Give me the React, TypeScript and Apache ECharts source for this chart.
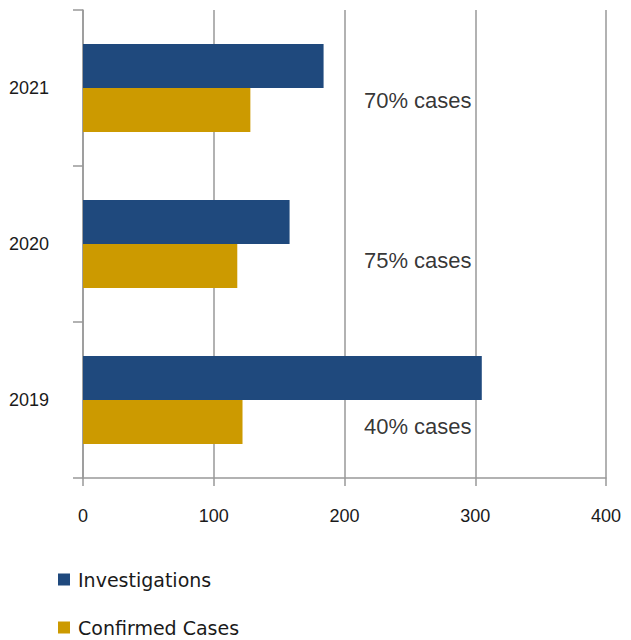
import React, { useEffect, useRef } from "react";
import * as echarts from "echarts";

const categories = ["2019", "2020", "2021"];
const investigations = [305, 158, 184];
const confirmedCases = [122, 118, 128];
const annotationLabels = ["40% cases", "75% cases", "70% cases"];
const xTicks = [0, 100, 200, 300, 400];

export default function App() {
  const ref = useRef<HTMLDivElement>(null);
  useEffect(() => {
    if (!ref.current) return;
    const chart = echarts.init(ref.current, null, { renderer: "svg" });
    const annotationOffsets = [[0, 26], [0, 16], [0, 12]];
    chart.setOption({
      animation: false,
      backgroundColor: "#ffffff",
      grid: { left: 83, right: 25, top: 10, bottom: 162, containLabel: false },
      legend: {
        orient: "vertical",
        left: 58,
        top: 570,
        height: 100,
        padding: 0,
        itemWidth: 12,
        itemHeight: 12,
        itemGap: 29,
        icon: "rect",
        data: ["Investigations", "Confirmed Cases"],
        textStyle: { fontFamily: "DejaVu Sans", fontSize: 19, color: "#1a1a1a", padding: [0, 0, 0, 3] },
      },
      xAxis: {
        type: "value",
        min: xTicks[0],
        max: xTicks[xTicks.length - 1],
        interval: 100,
        axisLine: { show: true, lineStyle: { color: "#999999", width: 1.5 } },
        axisTick: { show: true, length: 8, lineStyle: { color: "#999999", width: 1.5 } },
        splitLine: { show: true, lineStyle: { color: "#999999", width: 1.5 } },
        axisLabel: { margin: 29, fontFamily: "Liberation Sans", fontSize: 18, color: "#1a1a1a" },
      },
      yAxis: {
        type: "category",
        data: categories,
        axisLine: { show: true, lineStyle: { color: "#999999", width: 1.5 } },
        axisTick: { show: true, length: 10, lineStyle: { color: "#999999", width: 1.5 } },
        axisLabel: { margin: 34, fontFamily: "Liberation Sans", fontSize: 18, color: "#1a1a1a" },
      },
      series: [
        {
          name: "Investigations",
          type: "bar",
          data: investigations,
          barWidth: 44,
          barGap: "0%",
          itemStyle: { color: "#1F497D" },
        },
        {
          name: "Confirmed Cases",
          type: "bar",
          data: confirmedCases,
          barWidth: 44,
          barGap: "0%",
          itemStyle: { color: "#CC9A00" },
        },
        {
          name: "annotations",
          type: "scatter",
          symbolSize: 0,
          silent: true,
          itemStyle: { color: "#000000" },
          data: categories.map((c, i) => ({
            value: [256, c],
            label: {
              show: true,
              position: "inside",
              offset: annotationOffsets[i],
              formatter: annotationLabels[i],
              fontFamily: "Liberation Sans",
              fontSize: 22,
              color: "#000000",
              textBorderWidth: 0,
              textBorderColor: "transparent",
            },
          })),
        },
      ],
    });
    return () => chart.dispose();
  }, []);
  return (
    <div
      ref={ref}
      style={{ position: "absolute", left: 0, top: 0, width: 631, height: 640 }}
    />
  );
}
